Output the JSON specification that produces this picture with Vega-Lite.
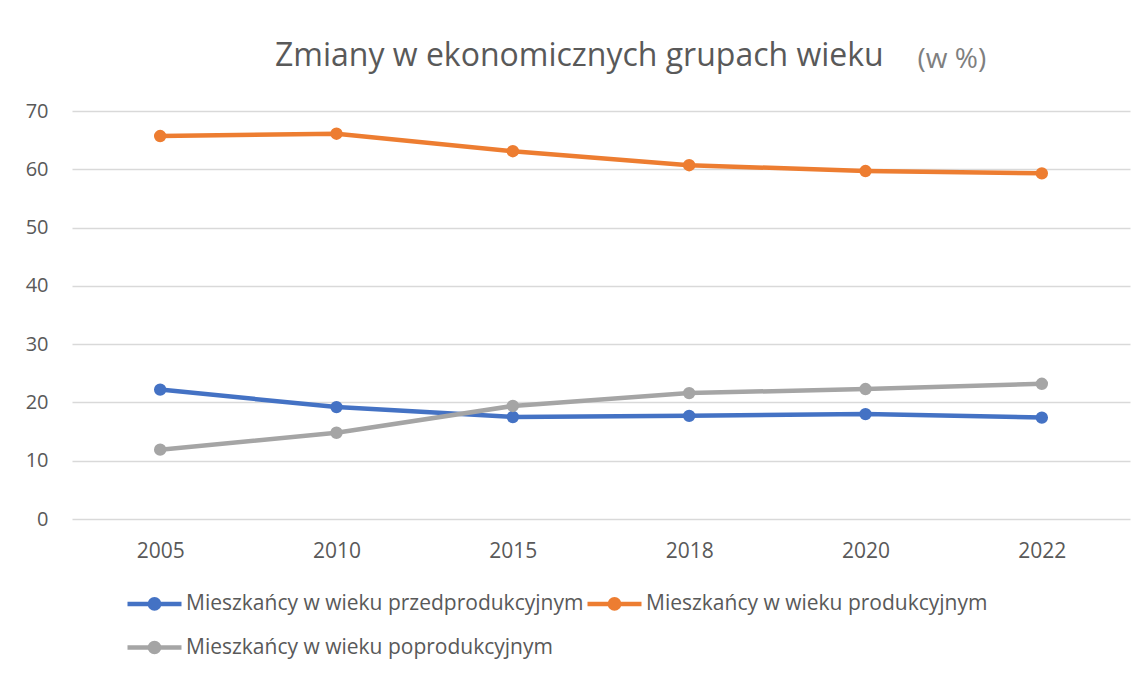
{
  "$schema": "https://vega.github.io/schema/vega-lite/v6.json",
  "autosize": "none",
  "width": 1058,
  "height": 408,
  "padding": {"left": 72, "top": 111, "right": 15, "bottom": 156},
  "background": "white",
  "config": {
    "font": "Open Sans",
    "view": {"stroke": null}
  },
  "title": {
    "text": "Zmiany w ekonomicznych grupach wieku",
    "anchor": "start",
    "frame": "group",
    "dx": 203,
    "dy": 53,
    "fontSize": 32,
    "fontWeight": "normal",
    "color": "#595959",
    "font": "Open Sans",
    "baseline": "alphabetic",
    "offset": 0
  },
  "data": {
    "values": [
      {"year": "2005", "group": "Mieszkańcy w wieku przedprodukcyjnym", "value": 22.2},
      {"year": "2010", "group": "Mieszkańcy w wieku przedprodukcyjnym", "value": 19.2},
      {"year": "2015", "group": "Mieszkańcy w wieku przedprodukcyjnym", "value": 17.5},
      {"year": "2018", "group": "Mieszkańcy w wieku przedprodukcyjnym", "value": 17.7},
      {"year": "2020", "group": "Mieszkańcy w wieku przedprodukcyjnym", "value": 18.0},
      {"year": "2022", "group": "Mieszkańcy w wieku przedprodukcyjnym", "value": 17.4},
      {"year": "2005", "group": "Mieszkańcy w wieku produkcyjnym", "value": 65.7},
      {"year": "2010", "group": "Mieszkańcy w wieku produkcyjnym", "value": 66.1},
      {"year": "2015", "group": "Mieszkańcy w wieku produkcyjnym", "value": 63.1},
      {"year": "2018", "group": "Mieszkańcy w wieku produkcyjnym", "value": 60.7},
      {"year": "2020", "group": "Mieszkańcy w wieku produkcyjnym", "value": 59.7},
      {"year": "2022", "group": "Mieszkańcy w wieku produkcyjnym", "value": 59.3},
      {"year": "2005", "group": "Mieszkańcy w wieku poprodukcyjnym", "value": 11.9},
      {"year": "2010", "group": "Mieszkańcy w wieku poprodukcyjnym", "value": 14.8},
      {"year": "2015", "group": "Mieszkańcy w wieku poprodukcyjnym", "value": 19.4},
      {"year": "2018", "group": "Mieszkańcy w wieku poprodukcyjnym", "value": 21.6},
      {"year": "2020", "group": "Mieszkańcy w wieku poprodukcyjnym", "value": 22.3},
      {"year": "2022", "group": "Mieszkańcy w wieku poprodukcyjnym", "value": 23.2}
    ]
  },
  "encoding": {
    "x": {
      "field": "year",
      "type": "ordinal",
      "scale": {"type": "point", "padding": 0.5},
      "axis": {
        "title": null,
        "labelAngle": 0,
        "labelFontSize": 21,
        "labelColor": "#595959",
        "labelPadding": 21,
        "domain": false,
        "ticks": false,
        "grid": false
      }
    },
    "y": {
      "field": "value",
      "type": "quantitative",
      "scale": {"domain": [0, 70], "nice": false, "zero": true},
      "axis": {
        "values": [0, 10, 20, 30, 40, 50, 60, 70],
        "title": "(w %)",
        "titleAngle": 0,
        "titleAlign": "left",
        "titleBaseline": "alphabetic",
        "titleX": 845,
        "titleY": -44,
        "titleFontSize": 28,
        "titleFontWeight": "normal",
        "titleColor": "#7f7f7f",
        "labelFontSize": 20,
        "labelColor": "#595959",
        "labelPadding": 24,
        "domain": false,
        "ticks": false,
        "grid": true,
        "gridColor": "#d9d9d9",
        "gridWidth": 1.5
      }
    }
  },
  "layer": [
    {
      "mark": {"type": "line", "strokeWidth": 4.5, "strokeCap": "round", "strokeJoin": "round"},
      "encoding": {
        "color": {
          "field": "group",
          "type": "nominal",
          "sort": null,
          "scale": {
            "domain": ["Mieszkańcy w wieku przedprodukcyjnym", "Mieszkańcy w wieku produkcyjnym", "Mieszkańcy w wieku poprodukcyjnym"],
            "range": ["#4472C4", "#ED7D31", "#A5A5A5"]
          },
          "legend": {
            "title": null,
            "orient": "none",
            "legendX": 53,
            "legendY": 463,
            "direction": "horizontal",
            "columns": 2,
            "symbolType": "M-1,0L1,0M0.17,0A0.17,0.17,0,1,1,-0.17,0A0.17,0.17,0,1,1,0.17,0M0.09,0A0.09,0.09,0,1,1,-0.09,0A0.09,0.09,0,1,1,0.09,0M0.02,0A0.02,0.02,0,1,1,-0.02,0A0.02,0.02,0,1,1,0.02,0",
            "symbolSize": 2916,
            "symbolStrokeWidth": 4.5,
            "labelFontSize": 21,
            "labelColor": "#595959",
            "labelOffset": 2,
            "labelLimit": 600,
            "columnPadding": -6,
            "rowPadding": -13
          }
        }
      }
    },
    {
      "mark": {"type": "point", "filled": true, "size": 154, "opacity": 1},
      "encoding": {
        "color": {"field": "group", "type": "nominal", "legend": null}
      }
    }
  ]
}
